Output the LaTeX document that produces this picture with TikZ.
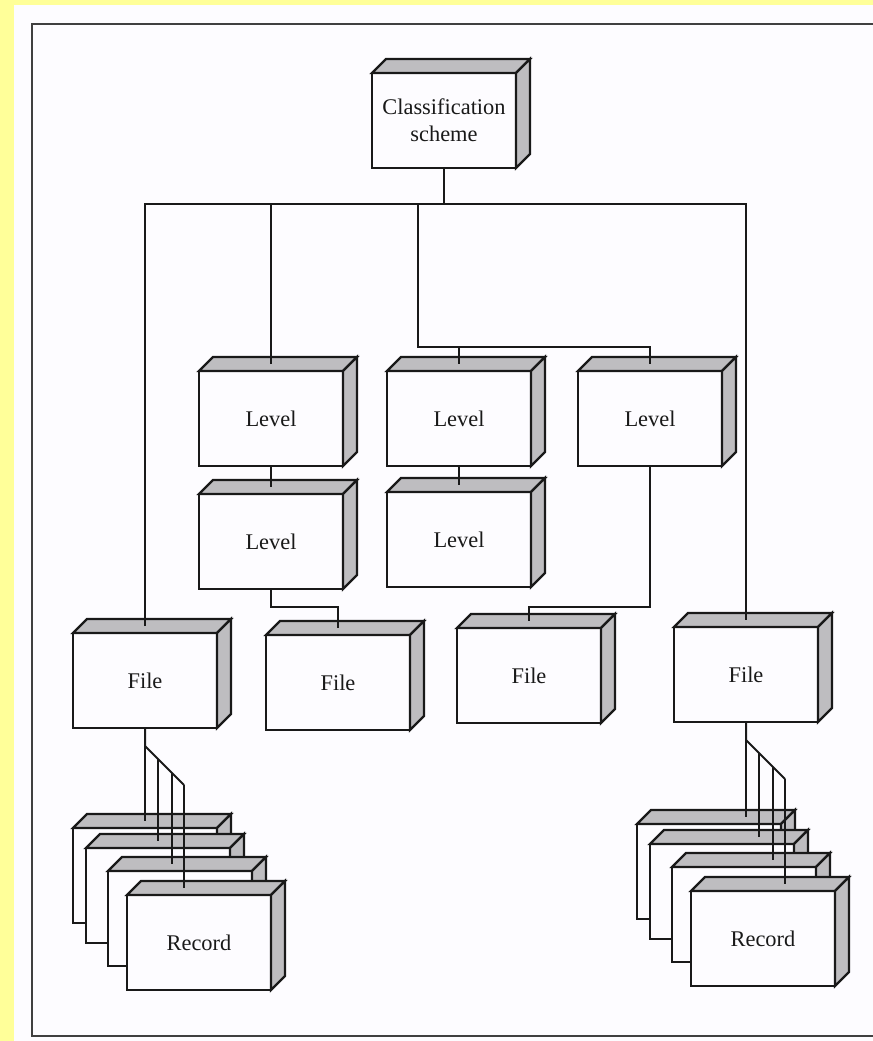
\documentclass[tikz,border=0pt]{standalone}
\usepackage{fontspec}
\setmainfont{Liberation Serif}
\usetikzlibrary{calc}
\definecolor{paleyellow}{RGB}{255,255,153}
\definecolor{paper}{RGB}{253,252,255}
\definecolor{shade}{RGB}{190,189,192}
\tikzstyle{block}=[draw=black!90,fill=paper,line width=1.1pt,minimum width=72pt,minimum height=47.5pt,inner sep=0pt,outer sep=0pt,align=center,font=\fontsize{11.2}{13.5}\selectfont,text=black!90]
\tikzstyle{face}=[draw=black!90,fill=shade,line width=1.1pt]
\tikzstyle{link}=[draw=black!90,line width=1pt]
\tikzstyle{frame}=[draw=black!75,line width=1.4pt]
\pgfmathsetmacro{\dep}{14}
% a front face with its top and right side
\newcommand{\drawblock}[4]{
\node[block] (#1) at (#2+72,#3+47.5) {#4};
\draw[face] (#1.north west) -- ++(\dep,-\dep) -- ($(#1.north east)+(\dep,-\dep)$) -- (#1.north east) -- cycle;
\draw[face] (#1.north east) -- ++(\dep,-\dep) -- ($(#1.south east)+(\dep,-\dep)$) -- (#1.south east) -- cycle;
\coordinate (#1top) at ($(#1.north)+(0,-\dep/2)$);
}
% a file with four records below it
\newcommand{\drawrecords}[3]{
\drawblock{#1r1}{#2}{#3}{}
\drawblock{#1r2}{#2+13}{#3+20}{}
\drawblock{#1r3}{#2+35}{#3+43}{}
\drawblock{#1r4}{#2+54}{#3+67}{Record}
}
\begin{document}
\begin{tikzpicture}[x=0.5pt,y=-0.5pt]
  \useasboundingbox (0,0) rectangle (873,1041);
  \fill[paleyellow] (0,0) rectangle (873,1041);
  \fill[paper] (14,5) rectangle (873,1041);
  \draw[frame] (873,24) -- (32,24) -- (32,1036) -- (873,1036);

  \drawblock{cls}{372}{73}{Classification\\scheme}
  \drawblock{lva}{199}{371}{Level}
  \drawblock{lvb}{199}{494}{Level}
  \drawblock{lvc}{387}{371}{Level}
  \drawblock{lvd}{387}{492}{Level}
  \drawblock{lve}{578}{371}{Level}
  \drawblock{fa}{73}{633}{File}
  \drawblock{fb}{266}{635}{File}
  \drawblock{fc}{457}{628}{File}
  \drawblock{fd}{674}{627}{File}
  \drawrecords{fa}{73}{828}
  \drawrecords{fd}{637}{824}

  \coordinate (bus) at (0,204);
  \coordinate (mid) at (418,347);
  \draw[link] (cls.south) -- (cls.south |- bus);
  \draw[link] (fatop) -- (fatop |- bus) -- (fdtop |- bus) -- (fdtop);
  \draw[link] (lvatop) -- (lvatop |- bus);
  \draw[link] (mid |- bus) -- (mid) -- (mid -| lvetop) -- (lvetop);
  \draw[link] (mid -| lvctop) -- (lvctop);
  \draw[link] (lva.south) -- (lvbtop);
  \draw[link] (lvc.south) -- (lvdtop);
  \draw[link] (lvb.south) -- ++(0,18) -| (fbtop);
  \draw[link] (lve.south) -- ++(0,141) -| (fctop);

  % file to records
  \foreach \f in {fa,fd} {
    \draw[link] (\f.south) -- ++(0,18) coordinate (\f br) -- ++(39,39);
    \foreach \k/\off in {1/0,2/12.5,3/26.5,4/39} {
      \path (\f br) ++(\off,\off) coordinate (\f p\k);
      \draw[link] (\f p\k) -- (\f p\k |- \f r\k top);
    }
  }
\end{tikzpicture}
\end{document}
